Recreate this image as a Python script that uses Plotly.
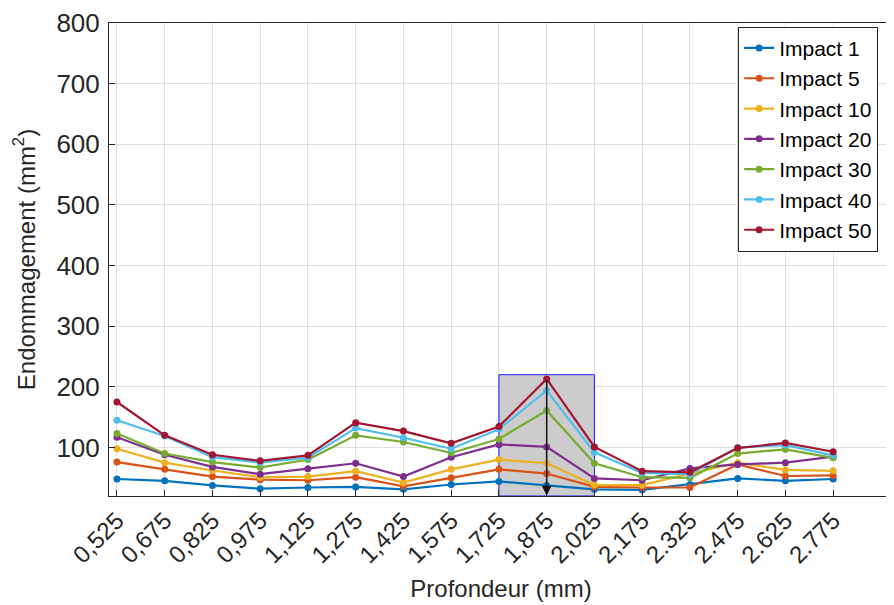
import plotly.graph_objects as go

# profondeur (mm) and the tick labels as printed on the original
depth = [0.525, 0.675, 0.825, 0.975, 1.125, 1.275, 1.425, 1.575,
         1.725, 1.875, 2.025, 2.175, 2.325, 2.475, 2.625, 2.775]
depth_labels = ['0,525', '0,675', '0,825', '0,975', '1,125', '1,275', '1,425', '1,575',
                '1,725', '1,875', '2,025', '2,175', '2.325', '2.475', '2.625', '2.775']

impact_1 = [48, 45, 37.5, 32, 34, 35, 31, 39, 44, 37.5, 31, 30, 39, 49, 45, 48]
impact_5 = [76, 64, 52, 47, 46, 51, 36, 50, 64, 57, 35, 34, 34, 72, 53, 54]
impact_10 = [98, 75, 62, 51, 52, 61, 42, 64, 80, 74, 38, 38, 57, 75, 63, 61.5]
impact_20 = [117, 88, 68, 56, 65, 74, 52, 84, 105, 101, 49, 46, 65.5, 72, 75, 85]
impact_30 = [123, 90, 76, 67, 80, 120, 109, 91, 114, 161, 74, 51, 50, 90, 97, 83]
impact_40 = [145, 119, 84, 75, 83, 132, 116, 98, 130, 194, 92, 58, 56, 100, 104, 87]
impact_50 = [175, 120, 88, 78, 87, 141, 127, 107, 134.5, 213, 101, 61, 59, 99, 107.5, 93]

series = [
    ('Impact 1', impact_1, '#0072BD'),
    ('Impact 5', impact_5, '#D95319'),
    ('Impact 10', impact_10, '#EDB120'),
    ('Impact 20', impact_20, '#7E2F8E'),
    ('Impact 30', impact_30, '#77AC30'),
    ('Impact 40', impact_40, '#4DBEEE'),
    ('Impact 50', impact_50, '#A2142F'),
]

# highlighted zone and arrow
zone_x = [1.725, 2.025]
zone_top = 220
arrow_x = 1.875
arrow_from = 213
y_min, y_max = 20, 800

FONT = 'Liberation Sans, Arial, sans-serif'
INK = '#262626'

fig = go.Figure()
for name, vals, color in series:
    fig.add_trace(go.Scatter(
        x=depth, y=vals, mode='lines+markers', name=name,
        line=dict(color=color, width=2.2),
        marker=dict(color=color, size=7),
    ))

fig.add_shape(type='rect', xref='x', yref='y',
              x0=zone_x[0], x1=zone_x[1], y0=y_min, y1=zone_top,
              fillcolor='#cccccc', line=dict(color='#1a1aff', width=1),
              layer='between')

fig.add_annotation(x=arrow_x, y=y_min + 1, ax=arrow_x, ay=arrow_from,
                   xref='x', yref='y', axref='x', ayref='y',
                   text='', showarrow=True, arrowhead=2, arrowsize=1.3,
                   arrowwidth=1.5, arrowcolor='#111111')

# page body adds an 8px offset, so the figure is drawn 8px smaller
fig.update_layout(
    width=886, height=597,
    margin=dict(l=101, r=0, t=13, b=109),
    paper_bgcolor='white', plot_bgcolor='white',
    font=dict(family=FONT, color=INK, size=24),
    showlegend=True,
    legend=dict(x=0.8025, y=0.992, xanchor='left', yanchor='top',
                bgcolor='white', bordercolor=INK, borderwidth=1,
                font=dict(size=21, color='black'), itemwidth=30,
                tracegroupgap=0),
    xaxis=dict(
        range=[0.5, 2.963], tickmode='array', tickvals=depth, ticktext=depth_labels,
        tickangle=-45, ticks='inside', ticklen=6, tickcolor=INK,
        showgrid=True, gridcolor='#dfdfdf', gridwidth=1,
        showline=True, linecolor=INK, linewidth=1, mirror=True,
        zeroline=False, tickfont=dict(size=24),
        title=dict(text='Profondeur (mm)', font=dict(size=24), standoff=12),
    ),
    yaxis=dict(
        range=[y_min, y_max + 0.01], tickvals=[100, 200, 300, 400, 500, 600, 700, 800],
        ticks='inside', ticklen=6, tickcolor=INK, ticklabelstandoff=3,
        ticklabeloverflow='allow',
        showgrid=True, gridcolor='#dfdfdf', gridwidth=1,
        showline=True, linecolor=INK, linewidth=1, mirror=True,
        zeroline=False, tickfont=dict(size=26),
        title=dict(text='Endommagement (mm<sup>2</sup>)', font=dict(size=24), standoff=14),
    ),
)

fig.write_html('out.html')
